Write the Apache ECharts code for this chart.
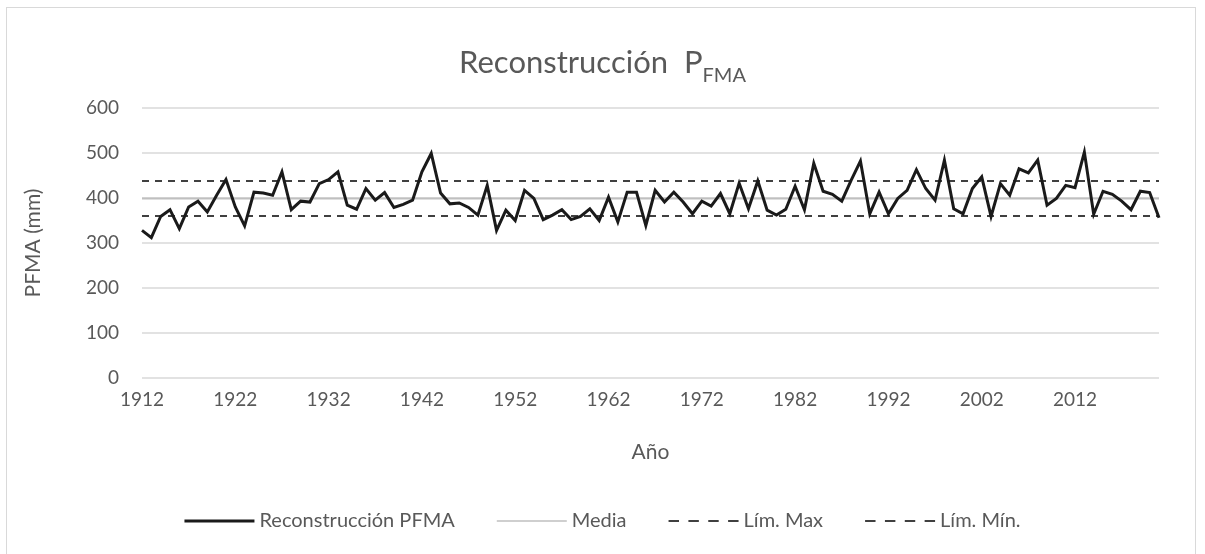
<!DOCTYPE html>
<html>
<head>
<meta charset="utf-8">
<script src="https://cdn.jsdelivr.net/npm/echarts@6/dist/echarts.min.js"></script>
<style>
  html, body { margin: 0; padding: 0; background: #fff; }
  #frame {
    position: absolute; left: 6px; top: 7px; width: 1190px; height: 560px;
    border-left: 1px solid #d9d9d9; border-top: 1px solid #d9d9d9; border-right: 1px solid #d9d9d9;
    box-sizing: border-box;
  }
  #chart { position: absolute; left: 0; top: 0; width: 1205px; height: 554px; }
</style>
</head>
<body>
<div id="frame"></div>
<div id="chart"></div>
<script>
// años 1912 - 2021
const years = []
for (let y = 1912; y <= 2021; y++) years.push(String(y))

// valores (mm)
const pfma = [
  328, 312, 359, 374, 332, 380, 393, 369, 406, 441,
  380, 338, 413, 411, 406, 458, 374, 393, 391, 432,
  441, 458, 384, 375, 421, 395, 412, 379, 386, 395,
  458, 499, 411, 387, 389, 379, 362, 428, 328, 373,
  350, 417, 399, 352, 362, 374, 352, 359, 376, 350,
  402, 347, 413, 413, 339, 417, 391, 413, 391, 365,
  393, 382, 410, 365, 433, 376, 438, 373, 362, 375,
  426, 374, 477, 415, 408, 393, 439, 482, 365, 413,
  365, 399, 417, 463, 421, 395, 484, 376, 365, 421,
  447, 359, 432, 406, 465, 456, 484, 384, 399, 428,
  423, 502, 364, 415, 408, 393, 374, 415, 412, 356
]

const mediaValue = 399
const limMaxValue = 438
const limMinValue = 360

const media = years.map(() => mediaValue)
const limMax = years.map(() => limMaxValue)
const limMin = years.map(() => limMinValue)

const yTicks = [0, 100, 200, 300, 400, 500, 600]

const font = 'Lato, "Open Sans", sans-serif'
const textColor = '#595959'

const chart = echarts.init(document.getElementById('chart'))

const dashIcon = 'path://M0,6L10,6L10,8L0,8ZM19,6L29,6L29,8L19,8ZM38,6L48,6L48,8L38,8ZM57,6L67,6L67,8L57,8Z'

let option = {
  animation: false,
  textStyle: { fontFamily: font },
  title: {
    text: '{main|Reconstrucción  P}{sub|FMA}',
    left: 'center',
    top: 35,
    textStyle: {
      rich: {
        main: { fontFamily: font, fontWeight: 'normal', fontSize: 31, color: textColor, verticalAlign: 'bottom', lineHeight: 38 },
        sub: { fontFamily: font, fontWeight: 'normal', fontSize: 20, color: textColor, verticalAlign: 'bottom', lineHeight: 26, padding: [0, 0, -8, 0] }
      }
    }
  },
  grid: {
    left: 142,
    right: 46,
    top: 108,
    height: 270,
    containLabel: false
  },
  legend: {
    bottom: 18,
    left: 'center',
    itemGap: 42,
    itemWidth: 70,
    itemHeight: 12,
    textStyle: { fontFamily: font, fontSize: 20, color: textColor },
    data: [
      { name: 'Reconstrucción PFMA', icon: 'path://M0,5L68,5L68,8L0,8Z', itemStyle: { color: '#1a1a1a' } },
      { name: 'Media', icon: 'path://M0,6L68,6L68,7.5L0,7.5Z', itemStyle: { color: '#bfbfbf' } },
      { name: 'Lím. Max', icon: dashIcon, itemStyle: { color: '#404040' } },
      { name: 'Lím. Mín.', icon: dashIcon, itemStyle: { color: '#404040' } }
    ]
  },
  xAxis: {
    type: 'category',
    data: years,
    boundaryGap: false,
    name: 'Año',
    nameLocation: 'middle',
    nameGap: 64,
    nameTextStyle: { fontFamily: font, fontSize: 21, color: textColor },
    axisLine: { show: false },
    axisTick: { show: false },
    axisLabel: {
      interval: 9,
      fontFamily: font,
      fontSize: 19,
      color: textColor,
      margin: 12
    }
  },
  yAxis: {
    type: 'value',
    min: yTicks[0],
    max: yTicks[yTicks.length - 1],
    interval: 100,
    name: 'PFMA (mm)',
    nameLocation: 'middle',
    nameGap: 98,
    nameTextStyle: { fontFamily: font, fontSize: 21, color: textColor },
    axisLine: { show: false },
    axisTick: { show: false },
    axisLabel: { fontFamily: font, fontSize: 19, color: textColor, margin: 23 },
    splitLine: { show: true, lineStyle: { color: '#d9d9d9', width: 1.5 } }
  },
  series: [
    {
      name: 'Media',
      type: 'line',
      data: media,
      symbol: 'none',
      z: 2,
      lineStyle: { color: '#bfbfbf', width: 2 },
      itemStyle: { color: '#bfbfbf' }
    },
    {
      name: 'Lím. Max',
      type: 'line',
      data: limMax,
      symbol: 'none',
      z: 3,
      lineStyle: { color: '#404040', width: 2, type: [7, 6] },
      itemStyle: { color: '#404040' }
    },
    {
      name: 'Lím. Mín.',
      type: 'line',
      data: limMin,
      symbol: 'none',
      z: 3,
      lineStyle: { color: '#404040', width: 2, type: [7, 6] },
      itemStyle: { color: '#404040' }
    },
    {
      name: 'Reconstrucción PFMA',
      type: 'line',
      data: pfma,
      symbol: 'none',
      z: 4,
      lineStyle: { color: '#1a1a1a', width: 3, join: 'miter' },
      itemStyle: { color: '#1a1a1a' }
    }
  ]
}

chart.setOption(option)
</script>
</body>
</html>
